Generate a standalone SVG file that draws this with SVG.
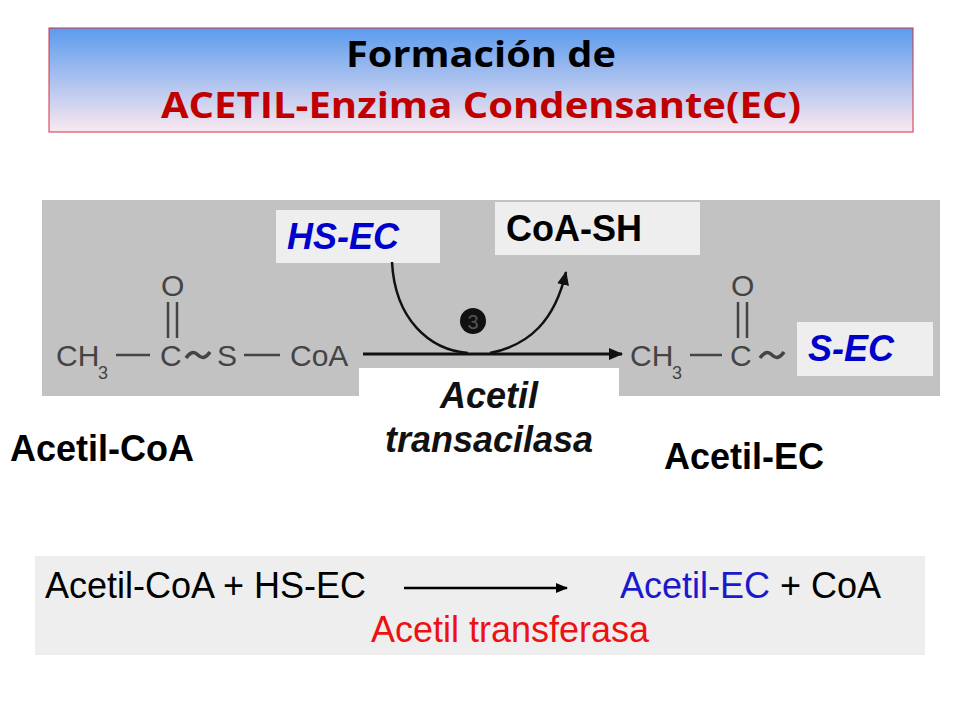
<svg xmlns="http://www.w3.org/2000/svg" width="960" height="720" viewBox="0 0 960 720">
<defs>
<linearGradient id="tg" x1="0" y1="0" x2="0" y2="1"><stop offset="0" stop-color="#5b9bee"/><stop offset="1" stop-color="#fbe8f0"/></linearGradient>
<marker id="ah" markerWidth="12" markerHeight="10" refX="11" refY="5" orient="auto" markerUnits="userSpaceOnUse"><path d="M0,0 L12,5 L0,10 z" fill="#000"/></marker>
<marker id="ah2" markerWidth="14" markerHeight="14" refX="13" refY="7" orient="auto" markerUnits="userSpaceOnUse"><path d="M0,1 L14,7 L0,13 z" fill="#111"/></marker>
<style>
.chem{font-family:"Liberation Sans",Arial,sans-serif;font-size:30px;fill:#444}
.sub{font-family:"Liberation Sans",Arial,sans-serif;font-size:18px;fill:#444}
.b{font-family:"Liberation Sans",Arial,sans-serif;font-weight:bold;font-size:36px;fill:#000}
.bi{font-family:"Liberation Sans",Arial,sans-serif;font-weight:bold;font-style:italic;font-size:36px}
.n{font-family:"Liberation Sans",Arial,sans-serif;font-size:36px}
.bond{stroke:#444;stroke-width:2.5;fill:none}
</style>
</defs>
<rect width="960" height="720" fill="#fff"/>
<g id="title">
<rect x="49" y="28" width="864" height="104" fill="url(#tg)" stroke="#d03040" stroke-width="1"/>
<text x="481" y="67" text-anchor="middle" font-family="'Open Sans','Liberation Sans',sans-serif" font-weight="bold" font-size="36" textLength="270" lengthAdjust="spacingAndGlyphs">Formación de</text>
<text x="481" y="118" text-anchor="middle" font-family="'Open Sans','Liberation Sans',sans-serif" font-weight="bold" font-size="36" fill="#c00000" textLength="640" lengthAdjust="spacingAndGlyphs">ACETIL-Enzima Condensante(EC)</text>
</g>
<g id="scheme">
<rect x="42" y="200" width="898" height="196" fill="#c2c2c2"/>
<text class="chem" x="56" y="366">CH</text><text class="sub" x="98" y="379">3</text>
<line class="bond" x1="116" y1="355" x2="150" y2="355"/>
<text class="chem" x="160" y="366">C</text>
<text class="chem" x="161" y="296">O</text>
<line class="bond" x1="168" y1="302" x2="168" y2="338"/><line class="bond" x1="177" y1="302" x2="177" y2="338"/>
<path d="M186,358 q6,-9 12,-3 t12,-3" stroke="#444" stroke-width="3.5" fill="none"/>
<text class="chem" x="217" y="366">S</text>
<line class="bond" x1="244" y1="355" x2="280" y2="355"/>
<text class="chem" x="290" y="366">CoA</text>
<text class="chem" x="630" y="366">CH</text><text class="sub" x="672" y="379">3</text>
<line class="bond" x1="690" y1="355" x2="722" y2="355"/>
<text class="chem" x="730" y="366">C</text>
<text class="chem" x="731" y="296">O</text>
<line class="bond" x1="738" y1="302" x2="738" y2="338"/><line class="bond" x1="747" y1="302" x2="747" y2="338"/>
<path d="M760,358 q6,-9 12,-3 t12,-3" stroke="#444" stroke-width="3.5" fill="none"/>
<circle cx="473" cy="321" r="13" fill="#111"/>
<text x="473" y="329" text-anchor="middle" font-family="'Liberation Sans',sans-serif" font-size="20" fill="#555">3</text>
</g>
<g id="hsec"><rect x="276" y="210" width="164" height="53" fill="#eeeeee"/><text class="bi" x="287" y="249" fill="#0000cc">HS-EC</text></g>
<g id="coash"><rect x="495" y="202" width="205" height="53" fill="#eeeeee"/><text class="b" x="506" y="241">CoA-SH</text></g>
<g id="sec"><rect x="797" y="322" width="136" height="54" fill="#eeeeee"/><text class="bi" x="808" y="361" fill="#0000cc">S-EC</text></g>
<g id="enzyme"><rect x="359" y="368" width="260" height="30" fill="#fff"/>
<text class="bi" x="489" y="408" text-anchor="middle" fill="#111">Acetil</text>
<text class="bi" x="489" y="452" text-anchor="middle" fill="#111">transacilasa</text></g>
<g id="acetilcoa"><text class="b" x="10" y="461">Acetil-CoA</text></g>
<g id="acetilec"><text class="b" x="664" y="469">Acetil-EC</text></g>
<g id="equation">
<rect x="35" y="556" width="890" height="99" fill="#eeeeee"/>
<text class="n" x="45" y="598">Acetil-CoA + HS-EC</text>
<text class="n" x="620" y="598"><tspan fill="#1a1acc">Acetil-EC</tspan> + CoA</text>
<text class="n" x="510" y="642" text-anchor="middle" fill="#ee1111">Acetil transferasa</text>
</g>
<g id="connectors">
<line x1="363" y1="354" x2="622" y2="354" stroke="#111" stroke-width="3" marker-end="url(#ah2)"/>
<path d="M392,262 C395,320 430,350 468,353" fill="none" stroke="#111" stroke-width="2.5"/>
<path d="M490,353 C530,345 555,320 566,272" fill="none" stroke="#111" stroke-width="2.5" marker-end="url(#ah2)"/>
<line x1="404" y1="588" x2="567" y2="588" stroke="#000" stroke-width="2.5" marker-end="url(#ah)"/>
</g>
</svg>
